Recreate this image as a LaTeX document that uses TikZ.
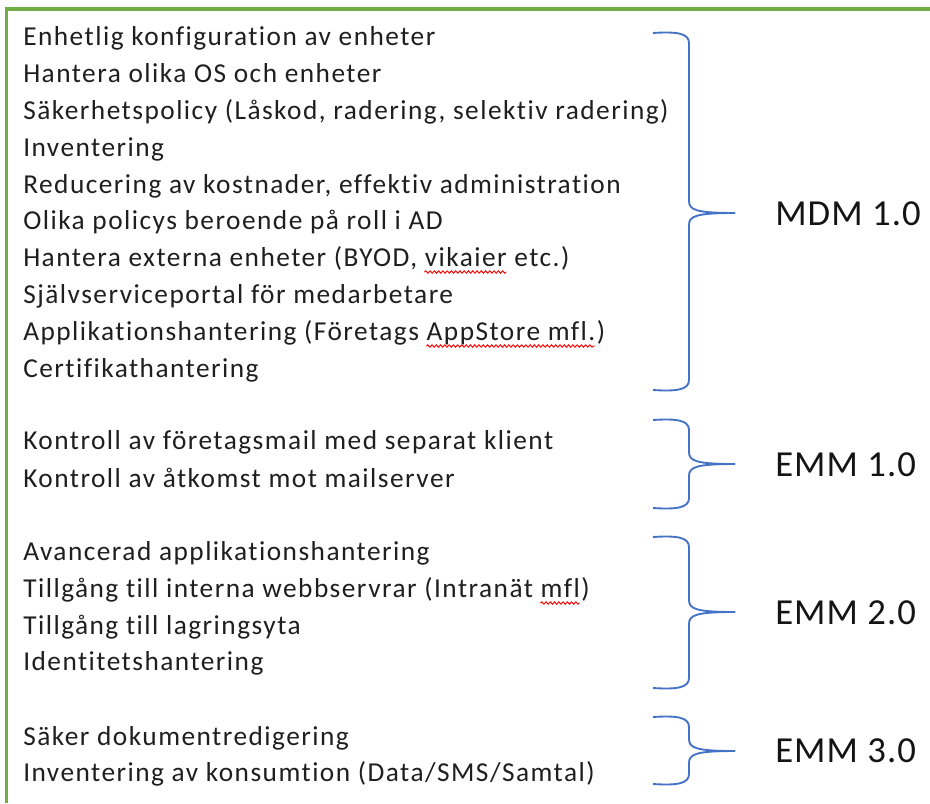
\documentclass[tikz,border=0pt]{standalone}
\usepackage{fontspec}
\setmainfont{Carlito}
\newfontfamily\itemfam[LetterSpace=5.4,Ligatures=NoCommon]{Carlito}
\newfontfamily\labelfam[LetterSpace=3]{Carlito}
\usetikzlibrary{decorations.pathmorphing}
\definecolor{framegreen}{HTML}{70AD47}
\definecolor{braceblue}{HTML}{4472C4}
\newlength\wpreA \newlength\wwordA
\newlength\wpreB \newlength\wwordB
\newlength\wpreC \newlength\wwordC
\newcommand\itemfont{\itemfam\fontsize{20.5}{24}\selectfont}
\newcommand\mybrace[3]{%
  \draw[bracestyle] (653,#1) .. controls (676,#1-1.5) and (689,#1) .. (689,#1+10)
     -- (689,#3-12) .. controls (689,#3-3) and (696,#3) .. (735,#3);
  \draw[bracestyle] (653,#2) .. controls (676,#2+1.5) and (689,#2) .. (689,#2-10)
     -- (689,#3+12) .. controls (689,#3+3) and (696,#3) .. (735,#3);
}
\newcommand\spell[3]{%
  \draw[spellstyle] ([xshift=#2, yshift=-4.5pt]#1.base west) -- ++(#3,0);
}
\begin{document}
\settowidth\wpreA{\itemfont Hantera externa enheter (BYOD, }%
\settowidth\wwordA{\itemfont vikaier}%
\settowidth\wpreB{\itemfont Applikationshantering (Företags }%
\settowidth\wwordB{\itemfont AppStore mfl.}%
\settowidth\wpreC{\itemfont Tillgång till interna webbservrar (Intranät }%
\settowidth\wwordC{\itemfont mfl}%
\begin{tikzpicture}[x=0.75pt,y=-0.75pt,
  itemtext/.style={anchor=base west, inner sep=0pt, font=\itemfont, text=black!88},
  grouplabel/.style={anchor=base west, inner sep=0pt, font=\labelfam\fontsize{27.5}{32}\selectfont, text=black!92},
  bracestyle/.style={draw=braceblue, line width=1.4pt},
  spellstyle/.style={draw=red, line width=0.7pt, decorate, decoration={snake, amplitude=0.9pt, segment length=3.2pt}},
  framestyle/.style={draw=framegreen, line width=2.3pt}]
\useasboundingbox (0,0) rectangle (930,803);
\fill[white] (0,0) rectangle (930,803);
% frame
\coordinate (ftl) at (6.7,9);
\coordinate (ftr) at (930,9);
\coordinate (fbl) at (6.7,803);
\draw[framestyle] (ftr) -- (ftl) -- (fbl);
% MDM items
\node[itemtext] (m1) at (23,45) {Enhetlig konfiguration av enheter};
\node[itemtext] (m2) at (23,82) {Hantera olika OS och enheter};
\node[itemtext] (m3) at (23,119) {Säkerhetspolicy (Låskod, radering, selektiv radering)};
\node[itemtext] (m4) at (23,156) {Inventering};
\node[itemtext] (m5) at (23,193) {Reducering av kostnader, effektiv administration};
\node[itemtext] (m6) at (23,229) {Olika policys beroende på roll i AD};
\node[itemtext] (m7) at (23,266) {Hantera externa enheter (BYOD, vikaier etc.)};
\node[itemtext] (m8) at (23,303) {Självserviceportal för medarbetare};
\node[itemtext] (m9) at (23,340) {Applikationshantering (Företags AppStore mfl.)};
\node[itemtext] (m10) at (23,377) {Certifikathantering};
% EMM 1.0 items
\node[itemtext] (a1) at (23,449) {Kontroll av företagsmail med separat klient};
\node[itemtext] (a2) at (23,487) {Kontroll av åtkomst mot mailserver};
% EMM 2.0 items
\node[itemtext] (b1) at (23,560) {Avancerad applikationshantering};
\node[itemtext] (b2) at (23,597) {Tillgång till interna webbservrar (Intranät mfl)};
\node[itemtext] (b3) at (23,634) {Tillgång till lagringsyta};
\node[itemtext] (b4) at (23,670) {Identitetshantering};
% EMM 3.0 items
\node[itemtext] (c1) at (23,745) {Säker dokumentredigering};
\node[itemtext] (c2) at (23,781) {Inventering av konsumtion (Data/SMS/Samtal)};
% spelling underlines
\spell{m7}{\wpreA}{\wwordA}
\spell{m9}{\wpreB}{\wwordB}
\spell{b2}{\wpreC}{\wwordC}
% braces
\mybrace{33}{390}{213}
\mybrace{420}{508}{464}
\mybrace{537}{688}{612}
\mybrace{717}{784}{751}
% labels
\node[grouplabel] (lmdm) at (775,225) {MDM 1.0};
\node[grouplabel] (lemm1) at (775,476) {EMM 1.0};
\node[grouplabel] (lemm2) at (775,624) {EMM 2.0};
\node[grouplabel] (lemm3) at (775,762) {EMM 3.0};
\end{tikzpicture}
\end{document}
